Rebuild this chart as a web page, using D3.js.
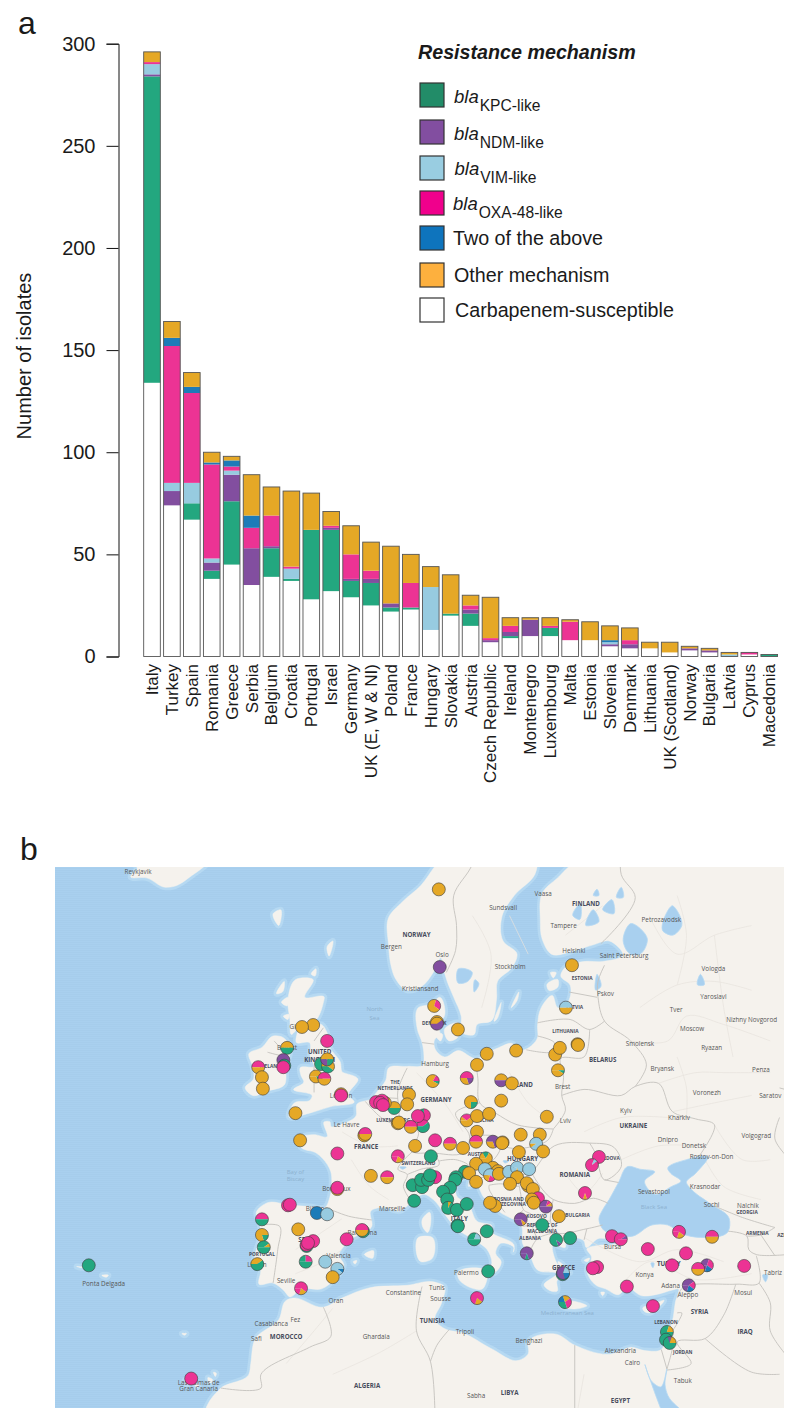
<!DOCTYPE html>
<html><head><meta charset="utf-8">
<script src="https://cdn.jsdelivr.net/npm/d3@7/dist/d3.min.js"></script>
<style>html,body{margin:0;padding:0;background:#fff}svg{display:block}text{font-family:"Liberation Sans",Arial,sans-serif}</style>
</head><body><svg id="c" width="800" height="1424" viewBox="0 0 800 1424"></svg>
<script>
// ---------- panel a data ----------
const countries = ["Italy","Turkey","Spain","Romania","Greece","Serbia","Belgium","Croatia","Portugal","Israel","Germany","UK (E, W & NI)","Poland","France","Hungary","Slovakia","Austria","Czech Republic","Ireland","Montenegro","Luxembourg","Malta","Estonia","Slovenia","Denmark","Lithuania","UK (Scotland)","Norway","Bulgaria","Latvia","Cyprus","Macedonia"];
const susceptible = [134,74,67,38,45,35,39,37,28,32,29,25,22,23,13,20,15,7,9,10,10,8,8,5,4,4,2,3,2,0,1,0];
const kpc   = [150,0,8,4,31,0,14,1,34,30,8,11,2,1,0,1,6,0,1,0,4,0,0,0,0,0,0,0,0,0,0,1];
const ndm   = [1,7,0,4,13,18,1,0,0,1,1,2,2,0,0,0,2,1,2,8,0,0,0,1,2,0,0,1,1,0,0,0];
const vim   = [5,4,10,2,2,0,0,5,0,0,0,0,0,0,21,0,0,0,0,0,0,0,0,1,0,0,0,0,0,1,0,0];
const oxa   = [1,67,44,46,2,10,15,1,0,1,12,4,0,12,0,0,2,1,3,0,1,9,0,0,2,0,0,0,0,0,1,0];
const two   = [0,4,3,1,3,6,0,0,0,0,0,0,0,0,0,0,0,0,0,0,0,0,0,1,0,0,0,0,0,0,0,0];
const other = [5,8,7,5,2,20,14,37,18,7,14,14,28,14,10,19,5,20,4,1,4,1,9,7,6,3,5,1,1,1,0,0];
const yTicks = [0,50,100,150,200,250,300];
const stackKeys = ["S","K","N","V","O","T","M"];
const seriesValues = {S:susceptible,K:kpc,N:ndm,V:vim,O:oxa,T:two,M:other};
const barColors = {S:"#ffffff",K:"#23a77f",N:"#824e9f",V:"#97cbe0",O:"#ec3394",T:"#1d7bb8",M:"#e5a826"};
const legendColors = ["#228c68","#824ea0","#99cde1","#f0008c","#0e74bd","#fdb03e","#ffffff"];
const legendMain = ["bla","bla","bla","bla","Two of the above","Other mechanism","Carbapenem-susceptible"];
const legendSub = ["KPC-like","NDM-like","VIM-like","OXA-48-like","","",""];

// ---------- panel b data: geography as [lon,lat] ----------
const mainland = [[14,67.5],[11,64.9],[10,64.4],[8.5,63.5],[6.5,62.7],[5,61.9],[5,60.5],[5.3,59.3],[5.7,58.7],[7,58],[8.5,58.2],[9.8,59],[10.6,59.8],[11,59],[11.3,58.5],[12,57.6],[12.8,56.5],[12.9,55.5],[14.2,55.4],[14.5,56],[16,56.2],[16.6,57.5],[16.7,58.5],[18.3,59.3],[18.8,60],[17.3,60.7],[17.2,62],[18.5,63],[20.7,64],[21.2,64.8],[22.3,65.6],[24.5,65.8],[25.3,65],[23.5,64],[21.5,63.1],[21.3,61.8],[21.5,60.8],[22.5,60],[25,60.2],[27,60.5],[28.7,60.7],[30.2,59.95],[28,59.6],[26,59.6],[24,59.3],[23.5,58.8],[24.5,58.3],[24.1,57.2],[23.2,57],[22.6,57.7],[21.4,57],[21,55.9],[21,55.2],[19.8,54.5],[18.7,54.4],[18.4,54.8],[16.5,54.5],[14.3,53.9],[12.5,54.4],[11,54],[10,54.5],[9.9,55],[10.5,55.5],[10.2,56.2],[10.9,56.4],[10.5,57.6],[9.5,57.2],[8.2,57],[8.1,55.7],[8.6,54.9],[8.8,54.1],[8.7,53.5],[7,53.4],[5,53.3],[4.7,52.5],[3.7,51.7],[3.2,51.3],[1.6,50.9],[1.5,50.1],[0.2,49.6],[-1.2,49.4],[-1.3,49.7],[-1.9,49.7],[-1.6,48.65],[-3,48.8],[-4.7,48.5],[-4.4,47.9],[-2.8,47.5],[-2.1,47.1],[-1.2,46.1],[-1.1,45.3],[-1.3,44.2],[-1.8,43.4],[-3.5,43.45],[-5.8,43.6],[-8,43.75],[-9.2,43],[-8.8,42],[-8.8,41],[-9.4,39.4],[-9.4,38.7],[-8.8,38.4],[-8.9,37.1],[-7.4,37.2],[-6.3,36.6],[-5.6,36],[-4.4,36.7],[-2.2,36.7],[-0.7,37.6],[0.2,38.75],[-0.3,39.5],[0.9,40.8],[3.2,41.9],[3.1,43.1],[4.5,43.4],[6.2,43.1],[7.5,43.8],[8.8,44.4],[9.8,44],[11,42.9],[12.3,41.7],[14.2,40.8],[15.6,40],[16.1,38.9],[15.7,38],[16.2,38],[17.1,39],[16.5,39.7],[17,40.5],[18.5,40.1],[18.4,39.8],[18.5,40.3],[16,41.6],[16.1,41.9],[14.5,42.3],[13.6,43.6],[12.3,44.3],[12.3,45.3],[13.7,45.7],[13.6,45],[14.3,45.2],[15.2,44.2],[17,43],[19.3,41.9],[19.4,40.5],[20.2,39.5],[21,38.3],[23.1,38],[21.7,37],[22.5,36.5],[23.1,36.5],[23.1,37.4],[24,38],[23,39],[22.7,40.4],[24,40.2],[24,40.8],[26,40.7],[26.2,40.2],[27.5,40.9],[28.9,41],[29.1,41.2],[29.9,40.7],[29,40.4],[27.5,40.35],[26.3,40.05],[26.8,39.4],[26.3,38.3],[27.3,37],[28.3,36.7],[29.7,36.2],[30.6,36.8],[32.2,36.1],[33.7,36.2],[35.5,36.6],[36.1,36.7],[35.8,35.5],[35.5,33.9],[34.9,32.5],[34.3,31.3],[32.5,31.2],[31,31.5],[30,31.2],[29,30.9],[25,31.7],[23,32.7],[20,32],[20,30.9],[19,30.3],[16,31.4],[13,32.8],[11,33.2],[10,34],[10.7,35.5],[11,36.9],[9.8,37.3],[7,37],[3,36.8],[0,35.9],[-2,35.1],[-5.3,35.9],[-6,35.7],[-6.8,34],[-9.3,32.3],[-9.8,30],[-10,29],[-13,27.7],[-14.5,26],[-15,24],[-15,10],[70,10],[70,72],[30,72]];
const islands = [
 [[-22.7,63.9],[-21,63.85],[-19,63.4],[-18,63.45],[-16,64],[-14.5,64.5],[-13.5,65],[-14.5,66],[-16,66.5],[-20,66],[-22.5,66.4],[-24,65.5],[-22,65],[-24,64.8],[-22,64.3]],
 [[-5.7,50.05],[-3.5,50.3],[-1.2,50.75],[1.3,51.1],[0.7,51.5],[1.7,52.6],[0.4,52.95],[0.1,53],[-0.2,53.7],[-1.3,54.6],[-1.6,55.5],[-2.2,56],[-3.2,56],[-2.6,56.4],[-2,57.3],[-1.9,57.6],[-4,57.6],[-3.1,58.6],[-5,58.6],[-5.8,57.5],[-5.6,56.3],[-5.4,55.4],[-4.8,55.7],[-4.9,54.9],[-3.5,54.9],[-3.4,54],[-3,53.4],[-4.5,53.3],[-4.4,52.8],[-4.1,52.4],[-5.2,51.9],[-3.2,51.45],[-3.4,51.2],[-5.1,51]],
 [[-6.2,52.2],[-6,53.3],[-5.6,54.6],[-6.3,55.2],[-7.4,55.3],[-8.6,54.6],[-10,54.2],[-9.6,53.4],[-9.5,52.6],[-10.4,52],[-9.6,51.5],[-8,51.8]],
 [[12.4,38],[15.6,38.2],[15.1,36.7],[12.5,37.6]],[[8.2,41],[9.7,41],[9.6,39.2],[8.5,39]],[[8.6,42.4],[9.4,43],[9.5,42],[9.2,41.4],[8.7,41.8]],
 [[23.6,35.5],[26.3,35.2],[25,34.95],[23.6,35.25]],[[32.3,35],[33.3,35.3],[34.6,35.7],[33.7,34.9],[33,34.6],[32.4,34.8]],
 [[2.4,39.6],[3.4,39.9],[3.3,39.3]],[[1.2,39],[1.6,39.1],[1.4,38.8]],[[11,55.7],[12.5,56.1],[12.4,55.2],[11.5,55]],[[9.9,55.5],[10.8,55.4],[10.6,55]],
 [[18.2,57],[19,57.9],[18.8,57.4]],[[16.4,56.2],[17.1,57.3],[16.6,56.3]],[[22,58.3],[23.2,58.6],[23.2,58.2],[22.2,58]],[[22.4,59],[23,59],[22.7,58.7]],
 [[-7,57.8],[-6.2,58.5],[-6.4,57.9]],[[-6.5,57.3],[-5.8,57.6],[-5.9,57.1]],[[-6.3,56.5],[-5.7,56.6],[-5.8,56.3]],[[-3.3,58.9],[-2.8,59.2],[-2.9,58.8]],[[-1.4,59.9],[-1,60.7],[-1.6,60.4]],
 [[-7.4,62.1],[-6.6,62.3],[-6.8,61.5]],[[28,36.1],[27.8,36.4],[28.2,36.4]],[[26,39.1],[26.6,39.3],[26.4,39]],[[23.3,38.7],[24.5,38.1],[24.2,38.4],[23.2,39]],
 [[-25.8,37.85],[-25.1,37.85],[-25.3,37.7]],[[-28.5,38.6],[-28,38.5],[-27.6,38.5]],[[-16.9,28.4],[-16.1,28.6],[-16.6,28]],[[-15.8,28],[-15.4,28.1],[-15.5,27.75]],[[-14.4,28.7],[-13.9,28.5],[-14.2,28.1]],[[-13.8,29.2],[-13.5,29.1],[-13.6,28.8]],[[-17.2,32.75],[-16.7,32.75],[-16.9,32.6]]
];
const waters = [
 [[28.1,41.6],[29.1,41.25],[31.2,41.1],[33.3,42],[35,42],[36.5,41.3],[38.5,41],[41.5,41.5],[41.6,42.5],[39.5,43.7],[37.5,44.8],[37,45.3],[38,46],[39.3,47.2],[37,47],[35,46.3],[35.3,46],[36.4,45.4],[35.4,45],[33.6,44.4],[32.5,45.4],[33.6,46.1],[32,46.3],[30.7,46.5],[29.7,45.3],[28.7,44],[28,43.2],[27.6,42.5]],
 [[32.55,29.9],[33.3,28.3],[34.2,27.8],[34.9,29.5],[34.7,28],[35,27],[37,25],[39,20],[37,20],[35,24],[33.7,27]],
 [[30.2,60.7],[31,61.6],[32.8,60.8],[32,60],[31,60]],[[34.5,61.2],[35.5,62.5],[36.5,61.5],[35.5,61]],[[27.4,58.9],[27.8,58.2],[27.3,58]],[[12.5,59.2],[14,59],[13.5,58.5],[12.5,58.4]],[[14.3,58.6],[14.7,58.4],[14.2,57.9]],
 [[38.2,58.3],[38.5,58.9],[38.9,58.3]],[[42.5,38.6],[43.5,38.8],[43.2,38.4]],[[33.2,38.9],[33.5,38.9],[33.4,38.5]],[[45.2,37.9],[45.7,37.9],[45.5,37.3]],[[6.2,46.45],[6.9,46.45],[6.5,46.3]],[[17.3,46.9],[17.9,46.9],[17.5,46.75]],[[26.2,61.5],[27,62.3],[27.6,61.7]],[[24.8,62],[25.6,62.6],[25.5,61.8]],[[28,62.3],[29,62.8],[29.2,62.1]],[[29.5,62.9],[30,63.4],[30.2,62.9]],[[27,63],[27.4,63.3],[27.6,63]]
];
const borders = [
 [[11.2,59],[12.2,60.2],[12.3,61.5],[12,63],[14,64.5],[14.5,66]],[[27.8,60.55],[31.5,62.9],[30,64],[30,65.5],[29,67]],[[28.2,59.4],[27.5,58.5],[27.5,57.6],[28.2,56.2],[31,55],[32.7,53.5],[31.5,52.1]],[[24.4,57.9],[27.4,57.6]],[[21,56.1],[24.5,56.3],[26.6,55.7],[28.2,56.2]],[[26.6,55.7],[26,54],[23.5,53.9],[23.8,52.7],[23.6,51.5],[24,50.5],[22.7,49.2]],[[21,55.3],[22.8,54.9],[22.8,54.35],[19.8,54.45]],[[23.6,51.5],[26,51.9],[30,51.5],[31.5,52.1],[34,52.3],[35.5,50.4],[38,49.9],[40,49.5],[38.3,47.2]],
 [[14.3,53.9],[14.6,52.6],[14.8,51],[16.5,50.3],[18.8,49.5],[22.7,49.2]],[[14.8,51],[12.2,50.3],[13.7,48.7],[13,47.5],[9.6,47.5],[7.6,47.6],[8.2,49],[6.4,49.5],[6.1,50.7],[6,51.8],[7,53.3]],[[8.6,54.9],[9.9,54.8]],[[3.4,51.4],[6,51.3]],[[2.5,51.1],[4.2,50],[5.8,49.5],[6.4,49.5]],[[7.6,47.6],[6,46.3],[7,45.9],[6.6,45],[7.5,43.8]],[[7,45.9],[8.5,46.3],[10.4,46.6],[10.4,46.9],[9.6,47.5]],[[10.4,46.9],[12.2,47],[13.7,46.5],[13.7,45.7]],[[13.7,48.7],[16.9,48.6],[17.1,48],[16.1,46.9],[13.7,46.5]],[[13.6,45.5],[15.5,45.8],[16.5,46.5],[18.8,45.9],[20.3,46.1],[22.8,48],[26.6,48.2],[29.2,47.9],[30,46.5],[28.2,45.5],[27.2,47.5],[26.6,48.2]],[[28.2,45.5],[29.7,45.3]],[[17.1,48],[18.8,47.8],[22.1,48.4],[22.7,49.2]],
 [[20.3,46.1],[21.5,44.8],[22.7,44],[25,43.7],[27,44.1],[28.6,43.7]],[[22.7,44],[22.4,42.3],[23,41.4],[26.3,41.7],[28,42]],[[26.3,41.7],[26,40.8]],[[23,41.4],[21,40.9],[20.1,39.7]],[[22.4,42.3],[21.5,42.3],[20.5,42],[21,40.9]],[[20.5,42],[19.4,41.9]],[[18.8,45.9],[19.2,44.4],[19.5,43.2],[20.3,42.9]],[[18.5,42.5],[19.5,43.2]],[[15.8,45.1],[17,45.2],[19,45]],[[15.8,45.1],[15.8,44.8],[17.5,43]],
 [[-8.8,42],[-6.7,41.9],[-6.9,40],[-7.4,37.2]],[[-1.8,43.4],[0.7,42.7],[3.2,42.4]],[[-2,35.1],[-1.2,32.5],[-3.5,31.5],[-8.7,29],[-8.7,27.7],[-13,27.7]],[[8.6,36.9],[8,33],[9.5,30.2],[10,24]],[[11.5,33.1],[10.2,31.7],[9.5,30.2]],[[25,31.7],[25,22]],[[34.3,31.3],[34.9,29.5]],[[35.5,33],[35.5,31.5],[34.9,29.5]],[[34.9,29.4],[37.5,30],[36,32],[39,32.3],[41,34.4],[42.3,37.1]],[[36,35.9],[36.6,36.8],[42.3,37.1],[44.8,37.2],[44.5,39.5]],[[44.8,37.2],[46,35.5],[46,33],[48,30.5]],[[39,32.3],[44,29.2],[47,29]],[[41.5,41.5],[43.5,41.1],[43.7,40],[44.5,39.6],[47.9,39.6]],[[40,43.5],[43,42.6],[46.5,41.8]],[[43.5,41.1],[45,41.2],[46.5,41.8]],[[45,41.2],[46.5,39.5]],[[35.5,33],[36.5,34.6],[36,34.6]],[[47,52],[50,51.5]],[[47,50],[46.5,48.5],[49,46.4]],
 [[-3,55],[-2,55.8]],[[-7.3,55],[-6.1,54.1],[-8,54.3]],[[-3,53.4],[-3,51.7]]
];
const regionLines = [
 [[33,62],[36,60],[40,61],[44,61.5]],[[32,57],[36,58.3],[40,58.5],[44,58]],[[31,55],[35,55],[37,56.5],[41,56],[46,55]],[[34,52.3],[38,53],[41,53],[46,53]],[[35.5,50.4],[40,51],[44,51.5]],[[40,49.5],[43,47],[46,47]],[[39,47],[41,45],[45,44]],[[36,58.3],[37,61],[36,63]],[[40,61],[41,57],[42,54]],[[36,54],[37,52],[37,50]],[[26,41],[32,39],[36,40],[41,39]],[[30,37],[33,39],[38,37.5],[44,38]],[[14,62],[16,60],[15,57]],[[18,62],[20,60]],[[24,61],[28,62.5]],[[25,24],[26,29]],[[-1,29],[4,31],[8,33]],[[-6,30],[-3,33],[-1,35]],[[30,47],[34,48],[38,48]],[[26,49],[30,50],[35,50]],[[24,46],[26,44.5],[28,46]],[[-5,40],[-2,41.5],[0,42.5]],[[-5,38],[-2,39],[0,40]],[[1,47],[3,45],[5,44]],[[0,49],[3,48],[6,48]],[[8,53],[11,51],[13,49]],[[18,53],[20,51],[22,50]]
];
const cityLabels = [["Reykjavik",-21.9,64.15],["Bergen",5.3,60.4],["Kristiansand",8.4,58.1],["Sundsvall",17.3,62.4],["Vaasa",21.6,63.1],["Tampere",23.8,61.5],["Helsinki",24.9,60.2],["Saint Petersburg",30.3,59.93],["Petrozavodsk",34.3,61.8],["Vologda",39.9,59.2],["Stockholm",18.07,59.33],["Oslo",10.75,59.95],["Pskov",28.3,57.8],["Yaroslavl",39.9,57.6],["Tver",35.9,56.86],["Nizhny Novgorod",44,56.3],["Moscow",37.6,55.75],["Smolensk",32,54.8],["Ryazan",39.7,54.6],["Bryansk",34.4,53.25],["Penza",45,53.2],["Voronezh",39.2,51.7],["Saratov",46,51.5],["Brest",23.7,52.1],["Hamburg",10,53.55],["Kyiv",30.5,50.45],["Kharkiv",36.2,50],["Lviv",24,49.8],["Dnipro",35,48.46],["Donetsk",37.8,48],["Rostov-on-Don",39.7,47.2],["Volgograd",44.5,48.7],["Krasnodar",39,45],["Sevastopol",33.5,44.6],["Sochi",39.7,43.6],["Nalchik",43.6,43.5],["Le Havre",0.5,49.5],["Bordeaux",-0.6,44.85],["Marseille",5.4,43.3],["Bilbao",-2.9,43.26],["Barcelona",2.17,41.4],["Valencia",-0.37,39.47],["Lisbon",-9.14,38.72],["Seville",-6,37.4],["Oran",-0.64,35.7],["Constantine",6.6,36.36],["Casablanca",-7.6,33.6],["Safi",-9.2,32.3],["Fez",-5,34],["Ghardaia",3.67,32.5],["Tunis",10.2,36.8],["Sousse",10.6,35.8],["Palermo",13.36,38.1],["Tripoli",13.2,32.9],["Benghazi",20.07,32.1],["Alexandria",29.9,31.2],["Cairo",31.2,30.05],["Sabha",14.4,27],["Tabuk",36.6,28.4],["Aleppo",37.16,36.2],["Adana",35.3,37],["Konya",32.5,37.9],["Bursa",29.06,40.2],["Mosul",43.1,36.34],["Tabriz",46.3,38.07],["Ponta Delgada",-25.6,37.1],["Las Palmas de",-15.4,28.2],["Gran Canaria",-15.4,27.6],["Glasgow",-4.3,55.85],["Belfast",-5.9,54.6],["London",-0.1,51.5]];
const countryLabels = [["NORWAY",8,61],["FINLAND",26.2,62.6],["ESTONIA",25.8,58.7],["LATVIA",25,57],["LITHUANIA",24,55.6],["BELARUS",28,53.8],["POLAND",19.1,52.2],["GERMANY",10.1,51.2],["UKRAINE",31.3,49.4],["ROMANIA",25,45.9],["HUNGARY",19.4,47.05],["AUSTRIA",14.6,47.4],["BULGARIA",25.3,42.8],["TURKEY",35.1,38.8],["GREECE",23.8,38.5],["SYRIA",38.4,34.7],["IRAQ",43.3,32.9],["LEBANON",34.8,33.8],["JORDAN",36.6,31],["TUNISIA",9.7,33.9],["LIBYA",18,27.2],["ALGERIA",2.7,27.9],["MOROCCO",-6,32.5],["EGYPT",29.9,26.5],["SPAIN",-3.7,40.8],["PORTUGAL",-8.6,39.6],["FRANCE",2.6,47.9],["SWITZERLAND",8.2,46.7],["UNITED",-2.4,54.3],["KINGDOM",-2.4,53.85],["IRELAND",-7.7,53.4],["THE",5.7,52.4],["NETHERLANDS",5.7,52],["LUXEMBOURG",5.5,49.8],["CZECHIA",15.2,49.8],["DENMARK",9.9,56.05],["ITALY",12.6,42.5],["BOSNIA AND",17.9,44.05],["HERZEGOVINA",17.9,43.6],["KOSOVO",20.9,42.7],["REPUBLIC OF",21.5,41.95],["MACEDONIA",21.5,41.5],["ALBANIA",20.2,40.9],["GEORGIA",43.5,43],["ARMENIA",44.6,41.3],["AZERBAIJAN",48.3,41.2],["MOLDOVA",28.5,47.1]];
const smallCountryLabels = ["ESTONIA","LATVIA","LITHUANIA","AUSTRIA","BULGARIA","LEBANON","JORDAN","PORTUGAL","SWITZERLAND","THE","NETHERLANDS","LUXEMBOURG","CZECHIA","DENMARK","BOSNIA AND","HERZEGOVINA","KOSOVO","REPUBLIC OF","MACEDONIA","ALBANIA","GEORGIA","ARMENIA","AZERBAIJAN","MOLDOVA","IRELAND"];
const seaLabels = [["North",3.5,56.9],["Sea",3.5,56.4],["Black Sea",33.5,43.4],["Mediterranean Sea",24.2,34.6],["Bay of",-5,46.1],["Biscay",-5,45.6]];

// dots: [lon, lat, mix]. mix reads clockwise from 9 o'clock: letter + weight
const sites = [
[-3.1,55.97,"M"],[-4.3,55.85,"M"],[-1.6,55,"O"],[-5.9,54.57,"M1K1"],[-6.3,53.8,"N"],[-6.2,53.45,"K"],[-6.3,53.35,"O"],[-9,53.35,"O1M1"],[-8.6,52.7,"M"],[-8.5,51.95,"M"],[-2.25,53.55,"K"],[-1.5,53.4,"M3K2"],[-1.6,53.85,"M2K1N1"],[-2.8,52.75,"M6K2M4"],[-1.9,52.6,"O1M1"],[-0.1,51.58,"M"],[-0.1,51.5,"O"],[-5,50.3,"M"],
[5.6,50.65,"M1K1"],[7.2,51.55,"M"],[7,50.9,"M"],[4.6,51,"M"],[3.65,51.05,"O"],[4.3,51.15,"O"],[4.1,51,"O"],[4.4,50.85,"O"],[6,49.6,"M"],[6.1,49.65,"M"],[8.8,50.15,"K1O3"],[8.7,49.4,"O2K3"],[7.4,49.35,"O1M1"],[8.15,50.1,"O"],
[9.75,52.45,"M4O2K1M5"],[13.4,52.65,"O5N2M3"],[14.5,53.5,"M"],[15.55,54.2,"M"],[18.7,54.4,"M"],[17.1,52.5,"M1N1"],[18.25,52.3,"M"],[23.2,53.15,"M6K1M5"],[17.1,51.15,"M"],[13.85,51.05,"M6K3M3"],[22,50.05,"M"],[13.4,49.8,"M1O3M6"],[14.5,50.1,"M"],[15.8,50.25,"M"],[14.5,49,"M"],[10,48.4,"O"],[11.6,48.15,"O1M1"],[7.85,48,"M"],[14.4,48.3,"O1M1"],[13,47.85,"M"],[16.2,48.3,"N7M3"],[17.25,48.25,"M"],[17.2,48.2,"M"],[19.2,48.8,"M"],[21.25,48.8,"M"],[20.85,48.15,"V9M1"],[21.6,47.6,"M"],[19,47.55,"M"],
[10.4,63.3,"M"],[10.5,59.3,"N"],[24.7,59.4,"M"],[24.05,57,"V1M1"],[9.9,57.1,"M3O3M4"],[10.2,56.15,"M"],[10.2,56.05,"M4N6"],[12.45,55.7,"M"],[25.3,54.8,"M"],[25.35,54.75,"M"],[22.9,54.15,"M"],[23.4,54.57,"M"],
[-4.5,48.4,"M"],[2.4,48.75,"M"],[2.5,48.85,"O1M1"],[-0.5,47.45,"O"],[6,47.25,"O6M2O2"],[3.1,45.8,"M"],[4.85,45.7,"O1M1"],[-0.5,44.8,"M"],[-0.5,44.9,"O"],[-5.8,43.55,"O"],[-5.6,43.6,"O"],[-2.7,42.95,"T"],[-1.6,42.85,"V"],[2.25,41.5,"K"],[2.15,41.6,"O5M5"],[0.5,40.85,"O"],
[-8.6,42.45,"O1K1"],[-8.6,41.2,"M5K2M3"],[-8.4,40.2,"K4M1K5"],[-9.1,38.8,"M4K6"],[-4.7,41.65,"M"],[-3.1,40.7,"O"],[-3.8,40.3,"K"],[-3.8,40.4,"O"],[-3.65,40.55,"O"],[-3.9,39,"K1O1K2"],[-1.8,39,"V"],[-0.5,38.4,"V5T1V4"],[-1,37.7,"M"],[-4.4,36.75,"O6M2O2"],[-27.2,38.7,"K"],[-16.2,28.6,"O"],
[10,45.7,"O"],[9.55,47.25,"K"],[7.6,45.1,"K"],[8.6,44.95,"K"],[8.5,45.5,"K"],[9.25,45.5,"K"],[9.45,45.85,"K"],[7.75,43.9,"K"],[13.2,46.1,"K"],[12.25,45.7,"K"],[12.15,45.5,"K"],[11.6,44.9,"K"],[10.85,44.6,"K"],[11.3,44,"K"],[11.4,43.35,"K3M1K8"],[12.35,43.2,"K"],[13.4,43.65,"K"],[12.4,41.95,"K"],[12.45,41.9,"K"],[15.55,41.5,"K"],[14.2,40.85,"K3V2K5"],
[15.45,47.1,"M2K2M8"],[14.4,46.7,"M"],[13.65,46,"M"],[14.4,45.35,"M"],[16.2,46.4,"M"],[16.75,46.15,"M"],[15.35,46.3,"V"],[15.9,45.85,"V6O2M2"],[16.85,45.95,"M"],[17.95,46.1,"V"],[18.8,46.4,"V7M1V2"],[20.1,46.3,"V"],[18.8,45.7,"M"],[18.05,45.2,"M"],[20,45.05,"M4N1M5"],[19.85,45.25,"M"],[20.5,44.8,"M"],[21.05,44.1,"O"],[20.4,44,"M"],[20.6,43.75,"M"],[21.9,43.45,"N3O1M1N5"],[23.3,42.7,"M"],[19.2,42.45,"N6M1N3"],[21.5,42,"K"],[23,40.8,"K6N1K3"],[24.5,40.95,"K"],[16.45,43.5,"M"],[15.9,43.75,"M"],
[27.6,47.2,"O"],[26.85,46.6,"O3V1O6"],[26.1,44.5,"O7M1O2"],[19.85,39.7,"N7K1N2"],[15.7,38.2,"K"],[23.7,37.95,"K"],[23.75,38.05,"N3V2T2N3"],[14.5,35.9,"O6M2O2"],[23.95,35.55,"T2M2O3K3"],
[29,41.1,"O"],[29.95,40.85,"O4N1O5"],[32.85,40.05,"O"],[36.2,41.45,"O6M2O2"],[39.75,41.05,"O1M1"],[36.95,39.7,"O"],[35.45,38.7,"O"],[39.2,38.7,"N3O3T2N2"],[38.25,38.4,"O1M1"],[43.2,38.65,"O"],[27.4,38.55,"O"],[26.95,38.45,"O"],[30.6,36.9,"O"],[37.25,37,"N4O2T2N2"],[33.4,35.2,"O"],
[34.9,32.9,"K3M2K5"],[34.8,32.2,"K"],[35.2,31.9,"K2N1M2K5"]
];

// ---------- drawing ----------
const svg = d3.select("#c");
svg.append("rect").attr("width",800).attr("height",1424).attr("fill","#fff");
const sans = '"Liberation Sans",Arial,sans-serif';

svg.append("text").attr("x",18).attr("y",34).attr("font-size",32).attr("fill","#1a1a1a").text("a");
svg.append("text").attr("x",20).attr("y",860).attr("font-size",32).attr("fill","#1a1a1a").text("b");

// bars
const x = d3.scaleBand().domain(countries).range([142.05,779.2]).paddingInner(0.165).paddingOuter(0.0825);
const y = d3.scaleLinear().domain([0,300]).range([656.5,43.7]);
const rows = countries.map((c,i)=>{const r={country:c};stackKeys.forEach(k=>r[k]=seriesValues[k][i]);return r;});
const stacked = d3.stack().keys(stackKeys)(rows);
const gBars = svg.append("g");
stacked.forEach(layer=>{
  gBars.append("g").attr("fill",barColors[layer.key]).selectAll("rect").data(layer).join("rect")
   .attr("x",d=>x(d.data.country)).attr("width",x.bandwidth())
   .attr("y",d=>y(d[1])).attr("height",d=>y(d[0])-y(d[1]));
});
gBars.append("g").selectAll("rect").data(rows).join("rect")
  .attr("x",d=>x(d.country)).attr("width",x.bandwidth())
  .attr("y",d=>y(stackKeys.reduce((s,k)=>s+d[k],0)))
  .attr("height",d=>y(0)-y(stackKeys.reduce((s,k)=>s+d[k],0)))
  .attr("fill","none").attr("stroke","#555").attr("stroke-width",0.9);

const ax = svg.append("g").attr("transform","translate(118.5,0)").call(d3.axisLeft(y).tickValues(yTicks).tickSize(12).tickPadding(11));
ax.selectAll("path,line").attr("stroke","#111").attr("stroke-width",1);
ax.selectAll("text").attr("font-size",20).attr("font-family",sans).attr("fill","#1a1a1a");
svg.append("text").attr("transform","translate(24,356) rotate(-90)").attr("text-anchor","middle").attr("dy","0.35em").attr("font-size",20).attr("fill","#1a1a1a").text("Number of isolates");

const bx = svg.append("g").attr("transform","translate(0,664)").call(d3.axisBottom(x).tickSize(0).tickPadding(0));
bx.select(".domain").remove();
bx.selectAll("text").attr("transform","rotate(-90)").attr("text-anchor","end").attr("x",0).attr("y",0).attr("dy","0.35em").attr("font-size",17).attr("font-family",sans).attr("fill","#1a1a1a");

// legend
svg.append("text").attr("x",418).attr("y",59).attr("font-size",19.7).attr("font-weight","bold").attr("font-style","italic").attr("fill","#1a1a1a").text("Resistance mechanism");
const legRowTop = [83,120,156,191,226,263,298];
const legTextX = [454,454,454.5,453,453,454,455];
const legBaseline = [102.5,140,175,210,245,282,317];
const leg = svg.append("g");
legendColors.forEach((c,i)=>{
  leg.append("rect").attr("x",420).attr("y",legRowTop[i]).attr("width",24).attr("height",24).attr("fill",c).attr("stroke","#333").attr("stroke-width",1.2);
  const t=leg.append("text").attr("x",legTextX[i]).attr("y",legBaseline[i]).attr("font-size",19.7).attr("fill","#1a1a1a");
  if(legendSub[i]){
    t.append("tspan").attr("font-style","italic").attr("font-size",18.5).text(legendMain[i]);
    t.append("tspan").attr("font-size",15.6).attr("dy",8).attr("dx",1).text(legendSub[i]);
  } else t.text(legendMain[i]);
});

// map
const mapX=55,mapY=867,mapW=729,mapH=541;
const defs=svg.append("defs");
defs.append("clipPath").attr("id","mapClip").append("rect").attr("x",mapX).attr("y",mapY).attr("width",mapW).attr("height",mapH);
const pat=defs.append("pattern").attr("id","sea").attr("width",4).attr("height",2).attr("patternUnits","userSpaceOnUse");
pat.append("rect").attr("width",4).attr("height",2).attr("fill","#a9d0ef");
pat.append("rect").attr("width",4).attr("height",1).attr("fill","#a6cdec");
const projection=d3.geoMercator().scale(533.4).translate([342,1656.6]).center([0,0]);
const P=p=>projection(p);
const line=d3.line().x(d=>P(d)[0]).y(d=>P(d)[1]).curve(d3.curveCatmullRom.alpha(0.6));
const poly=d3.line().x(d=>P(d)[0]).y(d=>P(d)[1]).curve(d3.curveCatmullRomClosed.alpha(0.9));
const m=svg.append("g").attr("clip-path","url(#mapClip)");
m.append("rect").attr("x",mapX).attr("y",mapY).attr("width",mapW).attr("height",mapH).attr("fill","url(#sea)");
const lands=[mainland,...islands];
m.append("g").selectAll("path").data(lands).join("path").attr("d",poly).attr("fill","#b6d9f2").attr("stroke","#b6d9f2").attr("stroke-width",6).attr("stroke-linejoin","round");
m.append("g").selectAll("path").data(lands).join("path").attr("d",poly).attr("fill","#f5f2ed").attr("stroke","#f5f2ed").attr("stroke-width",0.5);
m.append("g").selectAll("path").data(regionLines).join("path").attr("d",line).attr("fill","none").attr("stroke","#e6e3dd").attr("stroke-width",0.7);
m.append("g").selectAll("path").data(waters).join("path").attr("d",poly).attr("fill","#a9d0ef").attr("stroke","#b6d9f2").attr("stroke-width",0.8);
m.append("g").selectAll("path").data(borders).join("path").attr("d",line).attr("fill","none").attr("stroke","#c4c2bd").attr("stroke-width",0.9);

const lab=m.append("g").attr("text-anchor","middle");
lab.selectAll("text.city").data(cityLabels).join("text").attr("class","city").style("font-family",'"Open Sans"')
 .attr("x",d=>P([d[1],d[2]])[0]).attr("y",d=>P([d[1],d[2]])[1]).attr("dy","0.35em").attr("font-size",6.3).attr("fill","#565656").text(d=>d[0]);
lab.selectAll("text.cty").data(countryLabels).join("text").attr("class","cty").style("font-family",'"Open Sans"')
 .attr("x",d=>P([d[1],d[2]])[0]).attr("y",d=>P([d[1],d[2]])[1]).attr("dy","0.35em").attr("font-size",d=>smallCountryLabels.includes(d[0])?4.8:6.2).attr("font-weight","bold").attr("fill","#474c5c").text(d=>d[0]);
lab.selectAll("text.sealab").data(seaLabels).join("text").attr("class","sealab").style("font-family",'"Open Sans"')
 .attr("x",d=>P([d[1],d[2]])[0]).attr("y",d=>P([d[1],d[2]])[1]).attr("dy","0.35em").attr("font-size",6).attr("fill","#8db1cf").text(d=>d[0]);

// pies
const pie=d3.pie().sort(null).value(d=>d.w).startAngle(-Math.PI/2).endAngle(Math.PI*1.5);
const arc=d3.arc().innerRadius(0).outerRadius(6.5);
const parseMix=s=>{const parts=s.match(/[A-Z]\d*/g);return parts.map(p=>({k:p[0],w:p.length>1?+p.slice(1):1}));};
const gd=m.append("g").selectAll("g").data(sites).join("g").attr("transform",d=>`translate(${P([d[0],d[1]])})`);
gd.selectAll("path").data(d=>pie(parseMix(d[2]))).join("path").attr("d",arc).attr("fill",d=>barColors[d.data.k]);
gd.append("circle").attr("r",6.5).attr("fill","none").attr("stroke","#3c3c3c").attr("stroke-opacity",0.75).attr("stroke-width",0.8);
</script></body></html>
